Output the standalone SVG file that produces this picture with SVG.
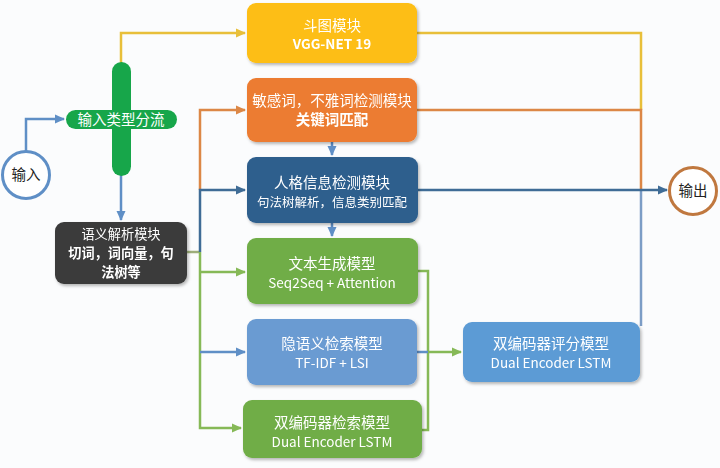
<svg xmlns="http://www.w3.org/2000/svg" width="720" height="468" viewBox="0 0 720 468">
<defs>
<filter id="sh" x="-10%" y="-10%" width="125%" height="130%">
<feDropShadow dx="1.5" dy="2" stdDeviation="1.8" flood-color="#000" flood-opacity="0.28"/>
</filter>
<marker id="aBlue" viewBox="0 0 10 10" refX="9" refY="5" markerWidth="10" markerHeight="10" markerUnits="userSpaceOnUse" orient="auto"><path d="M0,0.5 L10,5 L0,9.5 z" fill="#5F8FC6"/></marker>
<marker id="aYel" viewBox="0 0 10 10" refX="9" refY="5" markerWidth="10" markerHeight="10" markerUnits="userSpaceOnUse" orient="auto"><path d="M0,0.5 L10,5 L0,9.5 z" fill="#E8BF3A"/></marker>
<marker id="aOra" viewBox="0 0 10 10" refX="9" refY="5" markerWidth="10" markerHeight="10" markerUnits="userSpaceOnUse" orient="auto"><path d="M0,0.5 L10,5 L0,9.5 z" fill="#DC8746"/></marker>
<marker id="aDk" viewBox="0 0 10 10" refX="9" refY="5" markerWidth="10" markerHeight="10" markerUnits="userSpaceOnUse" orient="auto"><path d="M0,0.5 L10,5 L0,9.5 z" fill="#3F6C96"/></marker>
<marker id="aGrn" viewBox="0 0 10 10" refX="9" refY="5" markerWidth="10" markerHeight="10" markerUnits="userSpaceOnUse" orient="auto"><path d="M0,0.5 L10,5 L0,9.5 z" fill="#86B957"/></marker>
</defs>
<style>
text{font-family:"Noto Sans CJK SC","Noto Sans",sans-serif;text-anchor:middle;fill:#fff}
.t1{font-size:14.5px}
.t2{font-size:12.5px}
.t3{font-size:13.5px}
.tg{font-size:13.2px}
.b{font-weight:bold}
.k{fill:#222}
.ln{fill:none;stroke-width:2.5}
.blue{stroke:#5F8FC6}
.yel{stroke:#E8BF3A}
.ora{stroke:#DC8746}
.dk{stroke:#3F6C96}
.grn{stroke:#86B957}
.lb{stroke:#7C9DC6}
.olv{stroke:#9DAE7A}
</style>
<rect width="720" height="468" fill="#FBFCFD"/>
<g id="connectors">
<path class="ln blue" d="M26,151 V119 H64" marker-end="url(#aBlue)"/>
<path class="ln yel" d="M121,63 V33 H245" marker-end="url(#aYel)"/>
<path class="ln blue" d="M121,175 V220" marker-end="url(#aBlue)"/>
<path class="ln olv" d="M187,252 H200"/>
<path class="ln ora" d="M200,190 V110 H245" marker-end="url(#aOra)"/>
<path class="ln dk" d="M200,252 V190 H245" marker-end="url(#aDk)"/>
<path class="ln grn" d="M200,252 V428 H241" marker-end="url(#aGrn)"/>
<path class="ln grn" d="M200,272 H245" marker-end="url(#aGrn)"/>
<path class="ln blue" d="M200,352 H245" marker-end="url(#aBlue)"/>
<path class="ln blue" d="M332,142 V155" marker-end="url(#aBlue)"/>
<path class="ln blue" d="M332,223 V236" marker-end="url(#aBlue)"/>
<path class="ln yel" d="M417,33 H641 V110"/>
<path class="ln ora" d="M417,110 H641 V190"/>
<path class="ln lb" d="M641,326 V190"/>
<path class="ln dk" d="M418,190 H667" marker-end="url(#aDk)"/>
<path class="ln grn" d="M418,271 H428 V430 H422"/>
<path class="ln blue" d="M417,352 H428"/>
<path class="ln grn" d="M428,352 H461" marker-end="url(#aGrn)"/>
</g>
<g id="input">
<circle cx="26" cy="175" r="23.5" fill="#fff" stroke="#5F8FC6" stroke-width="3"/>
<text class="t1 k" x="26" y="180">输入</text>
</g>
<g id="splitter">
<rect x="112" y="62" width="19" height="114" rx="9.5" fill="#17A64A"/>
<rect x="66" y="110" width="111" height="19" rx="9.5" fill="#17A64A"/>
<text class="t1" x="121" y="125">输入类型分流</text>
</g>
<g id="parse" filter="url(#sh)">
<rect x="55" y="222" width="132" height="62" rx="9" fill="#3A3A3A"/>
<text class="tg" x="121" y="239">语义解析模块</text>
<text class="tg b" x="121" y="258">切词，词向量，句</text>
<text class="tg b" x="121" y="277">法树等</text>
</g>
<g id="doutu" filter="url(#sh)">
<rect x="247" y="3" width="170" height="60" rx="9" fill="#FDBE12"/>
<text class="t1" x="332" y="31">斗图模块</text>
<text class="t3 b" x="332" y="49">VGG-NET 19</text>
</g>
<g id="sensitive" filter="url(#sh)">
<rect x="247" y="78" width="170" height="64" rx="9" fill="#EC7C30"/>
<text class="t1" x="332" y="106">敏感词，不雅词检测模块</text>
<text class="t1 b" x="332" y="125">关键词匹配</text>
</g>
<g id="persona" filter="url(#sh)">
<rect x="247" y="157" width="171" height="66" rx="9" fill="#2F5F8D"/>
<text class="t1" x="332" y="188">人格信息检测模块</text>
<text class="t2" x="332" y="207">句法树解析，信息类别匹配</text>
</g>
<g id="seq2seq" filter="url(#sh)">
<rect x="247" y="238" width="171" height="66" rx="9" fill="#70AD47"/>
<text class="t1" x="332" y="269">文本生成模型</text>
<text class="t3" x="332" y="288">Seq2Seq + Attention</text>
</g>
<g id="lsi" filter="url(#sh)">
<rect x="247" y="319" width="170" height="66" rx="9" fill="#6B9BD2"/>
<text class="t1" x="332" y="349">隐语义检索模型</text>
<text class="t3" x="332" y="368">TF-IDF + LSI</text>
</g>
<g id="dualret" filter="url(#sh)">
<rect x="243" y="400" width="179" height="58" rx="9" fill="#70AD47"/>
<text class="t1" x="332" y="428">双编码器检索模型</text>
<text class="t3" x="332" y="447">Dual Encoder LSTM</text>
</g>
<g id="dualscore" filter="url(#sh)">
<rect x="463" y="322" width="177" height="60" rx="9" fill="#5B9BD5"/>
<text class="t1" x="551" y="349">双编码器评分模型</text>
<text class="t3" x="551" y="368">Dual Encoder LSTM</text>
</g>
<g id="output">
<circle cx="693" cy="191" r="23.5" fill="#fff" stroke="#C0783F" stroke-width="3"/>
<text class="t1 k" x="693" y="196">输出</text>
</g>
</svg>
